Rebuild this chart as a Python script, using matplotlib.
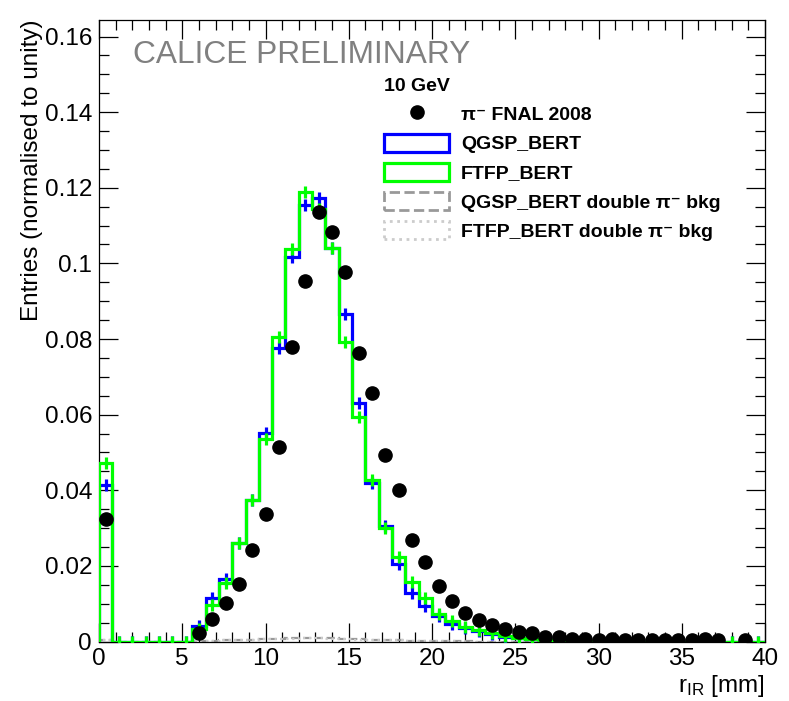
import numpy as np
import matplotlib
matplotlib.use("Agg")
import matplotlib.pyplot as plt
from matplotlib.patches import Patch
from matplotlib.lines import Line2D
from matplotlib.ticker import MultipleLocator, FuncFormatter

plt.rcParams['font.family'] = ['Liberation Sans', 'DejaVu Sans']
plt.rcParams['mathtext.fontset'] = 'custom'
plt.rcParams['mathtext.rm'] = 'Liberation Sans'
plt.rcParams['mathtext.it'] = 'Liberation Sans:italic'
plt.rcParams['mathtext.bf'] = 'Liberation Sans:bold'

# ---------------- data (bin width 0.8 mm, 0 .. 40 mm) ----------------
bin_edges = np.arange(0, 40.0 + 1e-9, 0.8)
nan = np.nan
data_fnal = [0.0323, nan, nan, nan, nan, nan, nan, 0.0023, 0.0059, 0.0102,
             0.0153, 0.0241, 0.0337, 0.0514, 0.0778, 0.0953, 0.1137, 0.1084, 0.0978, 0.0762,
             0.0657, 0.0494, 0.0401, 0.0269, 0.0209, 0.0147, 0.0108, 0.0076, 0.0057, 0.0044,
             0.0033, 0.0026, 0.0022, 0.0011, 0.0011, 0.0006, 0.0006, 0.0005, 0.0006, 0.0005,
             0.0005, 0.0005, 0.0005, 0.0005, 0.0005, 0.0006, 0.0004, nan, 0.0004, nan]
qgsp_bert = [0.0414, 0, 0, 0, 0, 0, 0, 0.0042, 0.0114, 0.0165,
             0.0260, 0.0375, 0.0552, 0.0776, 0.1018, 0.1155, 0.1174, 0.1040, 0.0866, 0.0632,
             0.0420, 0.0306, 0.0205, 0.0129, 0.0094, 0.0068, 0.0046, 0.0037, 0.0028, 0.0020,
             0.0013, 0.0009, 0.0006, 0.0004, 0.0002, 0.0001, 0.0001, 0, 0, 0,
             0, 0, 0, 0, 0, 0, 0, 0, 0, 0]
ftfp_bert = [0.0473, 0, 0, 0, 0, 0, 0, 0.0033, 0.0097, 0.0154,
             0.0260, 0.0374, 0.0535, 0.0804, 0.1038, 0.1190, 0.1145, 0.1040, 0.0793, 0.0595,
             0.0427, 0.0300, 0.0224, 0.0158, 0.0114, 0.0073, 0.0054, 0.0039, 0.0030, 0.0022,
             0.0015, 0.0010, 0.0007, 0.0005, 0.0003, 0.0002, 0.0001, 0, 0, 0,
             0, 0, 0, 0, 0, 0, 0, 0, 0, 0]
qgsp_bkg = [0.0003, 0, 0, 0, 0, 0, 0, 0.0001, 0.0002, 0.0003,
            0.0004, 0.0005, 0.0006, 0.0007, 0.0008, 0.0008, 0.0008, 0.0008, 0.0007, 0.0006,
            0.0005, 0.0004, 0.0003, 0.0002, 0.0002, 0.0001, 0.0001, 0.0001, 0, 0,
            0, 0, 0, 0, 0, 0, 0, 0, 0, 0,
            0, 0, 0, 0, 0, 0, 0, 0, 0, 0]
ftfp_bkg = [0.0003, 0, 0, 0, 0, 0, 0, 0.0001, 0.0002, 0.0003,
            0.0004, 0.0005, 0.0006, 0.0007, 0.0007, 0.0008, 0.0008, 0.0007, 0.0006, 0.0005,
            0.0004, 0.0003, 0.0003, 0.0002, 0.0001, 0.0001, 0.0001, 0, 0, 0,
            0, 0, 0, 0, 0, 0, 0, 0, 0, 0,
            0, 0, 0, 0, 0, 0, 0, 0, 0, 0]

labels = ["π⁻ FNAL 2008", "QGSP_BERT", "FTFP_BERT",
          "QGSP_BERT double π⁻ bkg", "FTFP_BERT double π⁻ bkg"]

centers = 0.5 * (bin_edges[:-1] + bin_edges[1:])

# ---------------- figure ----------------
W, H = 789, 701
fig = plt.figure(figsize=(W / 100, H / 100), dpi=100)
ax_l, ax_r, ax_t, ax_b = 99, 765, 19.5, 641.5
ax = fig.add_axes([ax_l / W, 1 - ax_b / H, (ax_r - ax_l) / W, (ax_b - ax_t) / H])

lw = 2.3
ax.stairs(qgsp_bkg, bin_edges, color='#999999', lw=1.6, ls='--', zorder=2)
ax.stairs(ftfp_bkg, bin_edges, color='#cccccc', lw=1.6, ls=':', zorder=2)
ax.stairs(qgsp_bert, bin_edges, color='#0000ff', lw=lw, zorder=3)
ax.plot(centers, qgsp_bert, ls='none', marker='|', ms=9, mew=2.3, color='#0000ff', zorder=3)
ax.stairs(ftfp_bert, bin_edges, color='#00ff00', lw=lw, zorder=4)
ax.plot(centers, ftfp_bert, ls='none', marker='|', ms=9, mew=2.3, color='#00ff00', zorder=4)
ax.plot(centers, data_fnal, ls='none', marker='o', ms=9.5, color='black', zorder=5)

ax.set_xlim(0, 40)
ax.set_ylim(0, 0.1645)

ax.xaxis.set_major_locator(MultipleLocator(5))
ax.xaxis.set_minor_locator(MultipleLocator(1))
ax.yaxis.set_major_locator(MultipleLocator(0.02))
ax.yaxis.set_minor_locator(MultipleLocator(0.005))
ax.yaxis.set_major_formatter(FuncFormatter(lambda v, p: f"{v:.2f}".rstrip('0').rstrip('.') if v != 0 else "0"))
ax.xaxis.set_major_formatter(FuncFormatter(lambda v, p: f"{v:g}"))
ax.tick_params(which='both', direction='in', top=True, right=True, width=0.9, labelsize=17.5)
ax.tick_params(which='major', length=13.5, pad=5)
ax.tick_params(which='minor', length=7)
for s in ax.spines.values():
    s.set_linewidth(0.9)

ax.set_ylabel("Entries (normalised to unity)", fontsize=17.5, loc='top')
ax.yaxis.set_label_coords(-0.084, 1.0)
ax.set_xlabel("r$_{\\mathrm{IR}}$ [mm]", fontsize=17.5, loc='right')
ax.xaxis.set_label_coords(1.0, -0.05)

ax.text((133 - ax_l) / (ax_r - ax_l), (ax_b - 55) / (ax_b - ax_t), "CALICE PRELIMINARY",
        transform=ax.transAxes, fontsize=22.8, color='#808080', va='center', ha='left')

handles = [
    Line2D([], [], ls='none', marker='o', ms=9.5, color='black'),
    Patch(facecolor='none', edgecolor='#0000ff', lw=2.3),
    Patch(facecolor='none', edgecolor='#00ff00', lw=2.3),
    Patch(facecolor='none', edgecolor='#999999', lw=2.0, ls='--'),
    Patch(facecolor='none', edgecolor='#cccccc', lw=2.0, ls=':'),
]
leg = ax.legend(handles, labels, loc='upper left', frameon=False,
                bbox_to_anchor=((384 - ax_l) / (ax_r - ax_l), (ax_b - 78) / (ax_b - ax_t)),
                borderpad=0, borderaxespad=0, handlelength=3.35, handleheight=1.05,
                handletextpad=0.6, labelspacing=0.49,
                prop={'weight': 'bold', 'size': 14},
                title="10 GeV", title_fontproperties={'weight': 'bold', 'size': 14},
                alignment='left')

fig.savefig("out.png", dpi=100)
